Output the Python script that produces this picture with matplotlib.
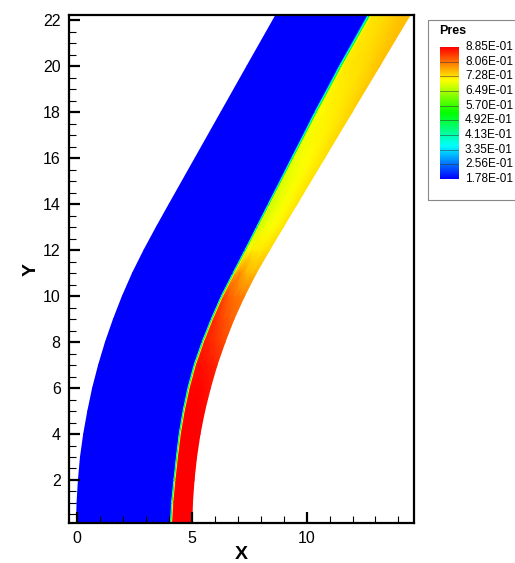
import numpy as np
import matplotlib
matplotlib.use('Agg')
import matplotlib.pyplot as plt
from matplotlib.colors import LinearSegmentedColormap, Normalize
from matplotlib.patches import Rectangle

# ---------------- data ----------------
y_stations = [0.13, 1, 2, 3, 4, 5, 6, 7, 8, 9, 10, 11, 12, 13, 14, 16, 18, 20, 22.22]
x_inflow = [-0.03, -0.01, 0.05, 0.14, 0.28, 0.46, 0.67, 0.93, 1.23, 1.58, 1.97, 2.41,
            2.91, 3.45, 4.01, 5.14, 6.27, 7.40, 8.66]
x_shock = [4.07, 4.12, 4.22, 4.33, 4.45, 4.62, 4.83, 5.10, 5.45, 5.85, 6.29, 6.80,
           7.32, 7.83, 8.34, 9.36, 10.38, 11.45, 12.70]
x_wall = [5.00, 5.02, 5.09, 5.20, 5.35, 5.55, 5.80, 6.09, 6.44, 6.83, 7.29, 7.80,
          8.38, 8.98, 9.58, 10.78, 11.98, 13.18, 14.51]

p_freestream = 0.178
shock_band_p = [0.178, 0.355, 0.531, 0.708]
layer_p = [
    [0.885, 0.885, 0.885, 0.885, 0.885],
    [0.885, 0.885, 0.885, 0.885, 0.885],
    [0.885, 0.885, 0.885, 0.885, 0.885],
    [0.885, 0.885, 0.885, 0.885, 0.885],
    [0.885, 0.885, 0.885, 0.885, 0.885],
    [0.885, 0.885, 0.885, 0.882, 0.880],
    [0.880, 0.880, 0.880, 0.875, 0.870],
    [0.875, 0.875, 0.870, 0.865, 0.860],
    [0.865, 0.860, 0.850, 0.840, 0.835],
    [0.855, 0.845, 0.830, 0.820, 0.815],
    [0.840, 0.820, 0.805, 0.800, 0.795],
    [0.770, 0.790, 0.760, 0.755, 0.760],
    [0.700, 0.720, 0.720, 0.725, 0.735],
    [0.675, 0.695, 0.705, 0.715, 0.725],
    [0.675, 0.690, 0.705, 0.715, 0.725],
    [0.690, 0.700, 0.710, 0.720, 0.730],
    [0.705, 0.715, 0.720, 0.730, 0.740],
    [0.720, 0.725, 0.730, 0.740, 0.750],
    [0.725, 0.730, 0.740, 0.750, 0.755],
]
legend_levels = [0.885, 0.806, 0.728, 0.649, 0.570, 0.492, 0.413, 0.335, 0.256, 0.178]
legend_labels = ['8.85E-01', '8.06E-01', '7.28E-01', '6.49E-01', '5.70E-01',
                 '4.92E-01', '4.13E-01', '3.35E-01', '2.56E-01', '1.78E-01']
x_ticks = [0, 5, 10]
y_ticks = [2, 4, 6, 8, 10, 12, 14, 16, 18, 20, 22]

# ---------------- mesh columns ----------------
band_s = [-0.04, 0.0, 0.035, 0.065]
layer_s = [0.1, 0.3, 0.55, 0.8, 1.0]

ys = np.array(y_stations)
xl = np.array(x_inflow)
xs = np.array(x_shock)
xw = np.array(x_wall)
thk = xw - xs
cols = [xl] + [xs + b * thk for b in band_s] + [xs + s * thk for s in layer_s]
X = np.stack(cols, axis=1)
Y = np.repeat(ys[:, None], X.shape[1], axis=1)
C = np.concatenate([np.full((len(ys), 1), p_freestream),
                    np.tile(np.array(shock_band_p), (len(ys), 1)),
                    np.array(layer_p)], axis=1)

vmin, vmax = min(legend_levels), max(legend_levels)
cmap = LinearSegmentedColormap.from_list(
    'tec', [(0, (0, 0, 1)), (0.25, (0, 1, 1)), (0.5, (0, 1, 0)),
            (0.75, (1, 1, 0)), (1.0, (1, 0, 0))])
norm = Normalize(vmin, vmax)

plt.rcParams['font.family'] = ['Liberation Sans', 'DejaVu Sans']
fig = plt.figure(figsize=(5.15, 5.63), dpi=100)
W, H = 515, 563
ax = fig.add_axes([69 / W, 1 - 523 / H, (414 - 69) / W, (523 - 15) / H])
ax.pcolormesh(X, Y, C, shading='gouraud', cmap=cmap, norm=norm, rasterized=True)
ax.set_xlim(-0.36, 14.68)
ax.set_ylim(0.13, 22.22)

ax.set_xticks(x_ticks)
ax.set_yticks(y_ticks)
ax.set_xticks(np.arange(0, 15, 1), minor=True)
ax.set_yticks(np.arange(0.5, 22.2, 0.5), minor=True)
ax.tick_params(which='major', direction='in', length=8, width=1.6, labelsize=11.5,
               top=False, right=False, pad=6)
ax.tick_params(which='minor', direction='in', length=5, width=0.8, top=False, right=False)
for sp in ax.spines.values():
    sp.set_linewidth(1.6)
ax.set_xlabel('X', fontsize=14, fontweight='bold', labelpad=0)
ax.set_ylabel('Y', fontsize=14, fontweight='bold', labelpad=2)

# ---------------- legend ----------------
fig.patches.append(Rectangle((428 / W, 1 - 200 / H), 100 / W, 180 / H,
                             transform=fig.transFigure, facecolor='white',
                             edgecolor='#888888', linewidth=0.8, zorder=-5))
fig.text(453 / W, 1 - 31 / H, 'Pres', fontsize=9, fontweight='bold',
         ha='center', va='center')
bar_top, bar_bot = 47, 179
cax = fig.add_axes([440 / W, 1 - bar_bot / H, (459 - 440) / W, (bar_bot - bar_top) / H],
                   zorder=5)
grad = np.linspace(vmax, vmin, 256)[:, None]
cax.imshow(grad, aspect='auto', cmap=cmap, norm=norm,
           extent=[0, 1, vmin, vmax], interpolation='bilinear')
for lv in legend_levels[1:-1]:
    cax.axhline(lv, color='#303030', lw=0.5, alpha=0.7)
cax.set_xlim(0, 1)
cax.set_ylim(vmin, vmax)
cax.set_xticks([])
cax.set_yticks([])
for sp in cax.spines.values():
    sp.set_visible(False)
for lv, lab in zip(legend_levels, legend_labels):
    yp = bar_top + (vmax - lv) / (vmax - vmin) * (bar_bot - bar_top)
    fig.text(465 / W, 1 - yp / H, lab, fontsize=8.5, ha='left', va='center')

fig.savefig('out.png', dpi=100)
